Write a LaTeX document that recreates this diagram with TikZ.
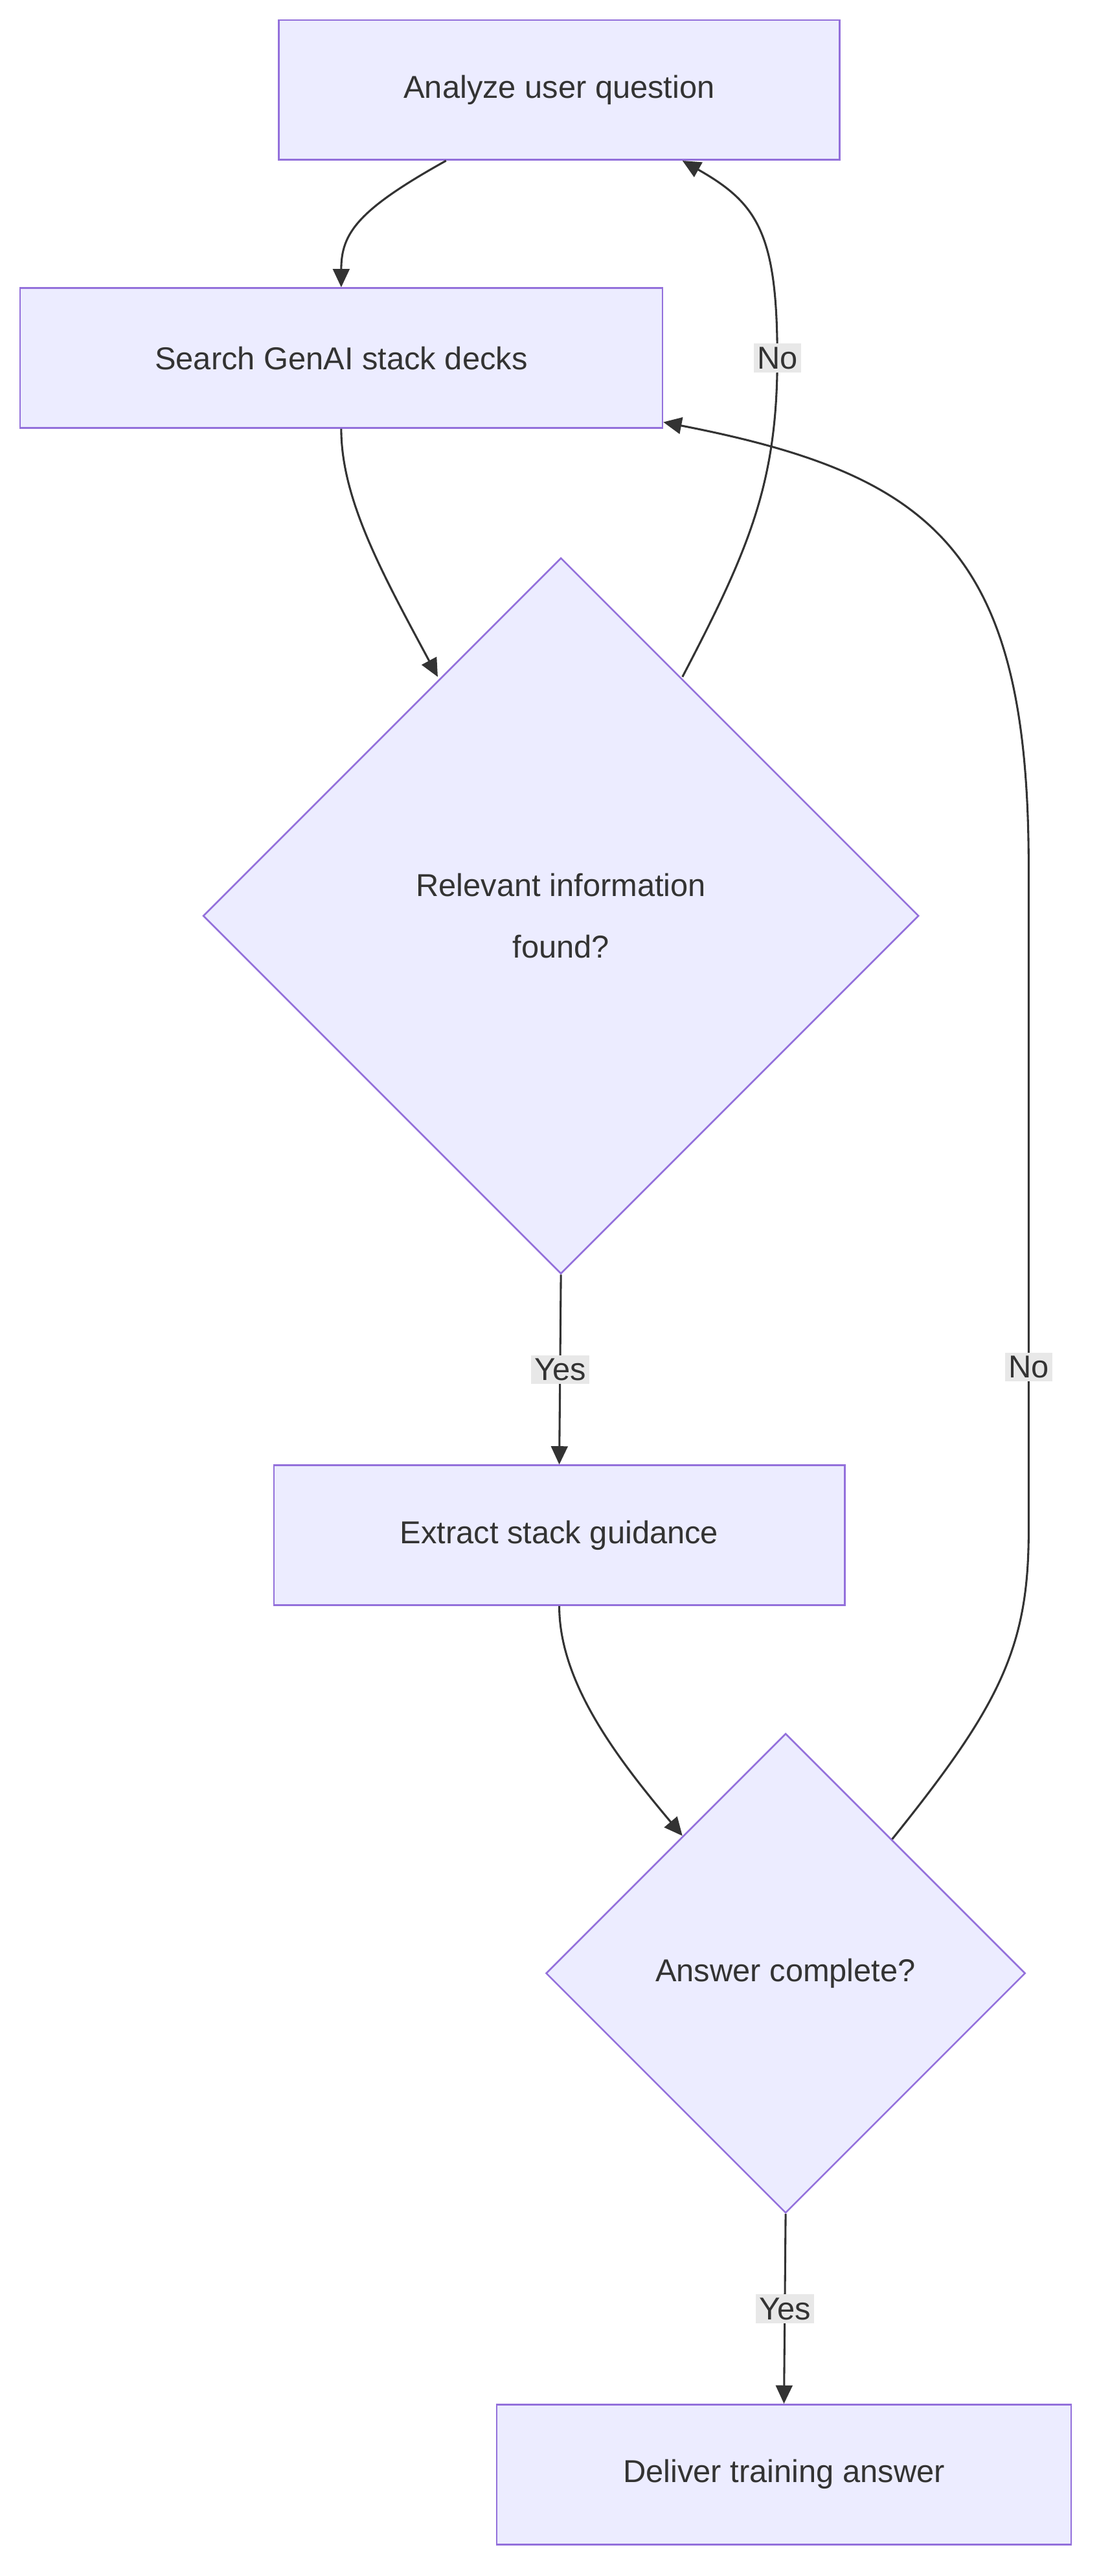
\documentclass[tikz,border=0pt]{standalone}
\usepackage{fontspec}
\setmainfont{Liberation Sans}
\usetikzlibrary{shapes.geometric,arrows.meta}
\definecolor{boxfill}{HTML}{ECECFF}
\definecolor{boxline}{HTML}{9370DB}
\definecolor{lnk}{HTML}{333333}
\definecolor{lblbg}{HTML}{E8E8E8}
\tikzset{
  stepbox/.style={draw=boxline, fill=boxfill, line width=1pt, minimum height=84pt, inner sep=0pt, font=\fontsize{19}{26}\selectfont, text=lnk},
  check/.style={diamond, draw=boxline, fill=boxfill, line width=1pt, inner sep=0pt, align=center, font=\fontsize{19}{37}\selectfont, text=lnk},
  flow/.style={draw=lnk, line width=1.2pt, -{Triangle[length=11pt,width=10pt]}},
  tag/.style={fill=lblbg, inner sep=2pt, font=\fontsize{19}{22}\selectfont, text=lnk}
}
\begin{document}
\begin{tikzpicture}[x=1pt,y=-1pt]
  \useasboundingbox (0,0) rectangle (660,1547);

  \node[stepbox, minimum width=337pt] (analyze) at (336,54) {Analyze user question};
  \node[stepbox, minimum width=386pt] (search) at (205,215) {Search GenAI stack decks};
  \node[check, minimum width=430pt, minimum height=430pt] (relevant) at (337,550) {Relevant information\\found?};
  \node[stepbox, minimum width=343pt] (extract) at (336,922) {Extract stack guidance};
  \node[check, minimum width=288pt, minimum height=288pt] (complete) at (472,1185) {Answer complete?};
  \node[stepbox, minimum width=345pt] (deliver) at (471,1486) {Deliver training answer};

  % links
  \draw[flow] ([xshift=-68pt]analyze.south) .. controls (215,126) and (205,140) .. (search.north);
  \draw[flow] (search.south) .. controls (205,300) and (230,345) .. ([xshift=-74pt,yshift=-72pt]relevant.north);
  \draw[flow] ([xshift=73pt,yshift=-72pt]relevant.north) .. controls (450,330) and (467,290) .. (467,215) node[tag] (no1) {No} .. controls (467,140) and (455,122) .. ([xshift=74pt]analyze.south);
  \draw[flow] (relevant.south) -- (extract.north) node[tag, midway] (yes1) {Yes};
  \draw[flow] (extract.south) .. controls (336,1010) and (370,1055) .. ([xshift=-62pt,yshift=-62pt]complete.north);
  \draw[flow] ([xshift=64pt,yshift=-64pt]complete.north) .. controls (600,1025) and (618,990) .. (618,920) -- (618,821) node[tag] (no2) {No} -- (618,520) .. controls (618,330) and (560,285) .. ([yshift=4pt]search.south east);
  \draw[flow] (complete.south) -- (deliver.north) node[tag, midway] (yes2) {Yes};
\end{tikzpicture}
\end{document}
